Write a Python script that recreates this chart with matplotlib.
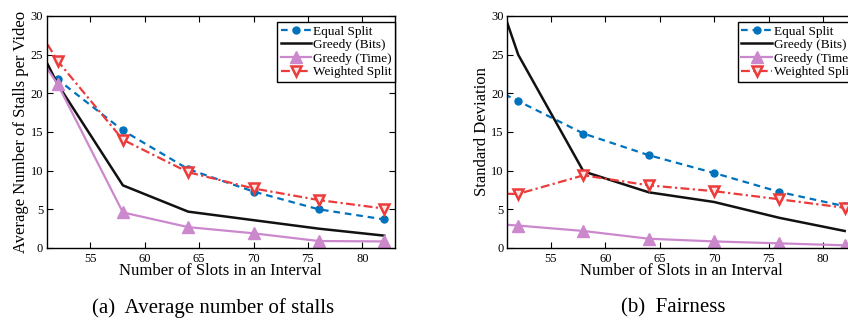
import numpy as np
import matplotlib.pyplot as plt

# Slot counts (first point lies left of the visible range)
slots = [46, 52, 58, 64, 70, 76, 82]

# (a) Average number of stalls per video
stalls_equal = [30.2, 21.8, 15.2, 10.2, 7.3, 5.0, 3.7]
stalls_bits = [38.0, 21.2, 8.1, 4.7, 3.6, 2.5, 1.6]
stalls_time = [33.8, 21.2, 4.6, 2.7, 1.9, 0.9, 0.85]
stalls_weighted = [38.0, 24.2, 14.0, 9.8, 7.7, 6.2, 5.1]

# (b) Fairness (standard deviation)
std_equal = [23.2, 19.0, 14.8, 12.0, 9.7, 7.25, 5.4]
std_bits = [49.6, 25.0, 9.9, 7.2, 5.95, 3.9, 2.2]
std_time = [3.5, 2.9, 2.2, 1.2, 0.85, 0.6, 0.35]
std_weighted = [7.0, 7.0, 9.4, 8.1, 7.35, 6.3, 5.2]

labels = ['Equal Split', 'Greedy (Bits)', 'Greedy (Time)', 'Weighted Split']
xticks = [55, 60, 65, 70, 75, 80]
yticks = [0, 5, 10, 15, 20, 25, 30]

blue = '#0072BD'
pink = '#CC88CC'
red = '#EC3B3B'

plt.rcParams['font.family'] = ['Liberation Serif', 'DejaVu Serif']

fig = plt.figure(figsize=(8.48, 3.24), dpi=100)

W, H = 848.0, 324.0
ax_a = fig.add_axes([46.7 / W, 1 - 248 / H, 348.3 / W, 232 / H])
ax_b = fig.add_axes([507.3 / W, 1 - 248 / H, 348.3 / W, 232 / H])


def draw(ax, eq, bits, time, wt, ylabel):
    ax.plot(slots, eq, color=blue, ls=(0, (3, 2.2)), lw=1.6,
            marker='o', ms=5, mfc=blue, mec=blue, label=labels[0])
    ax.plot(slots, bits, color='#111111', ls='-', lw=1.8, label=labels[1])
    ax.plot(slots, time, color=pink, ls='-', lw=1.6,
            marker='^', ms=8, mfc=pink, mec=pink, label=labels[2])
    ax.plot(slots, wt, color=red, ls=(0, (4, 1.5, 1, 1.5)), lw=1.6,
            marker='v', ms=7.5, mfc='#FDE6E6', mec=red, mew=1.8,
            label=labels[3])

    ax.set_xlim(51, 83)
    ax.set_ylim(0, 30)
    ax.set_xticks(xticks)
    ax.set_yticks(yticks)
    ax.tick_params(direction='in', length=4, width=0.8, labelsize=9,
                   top=True, right=True, pad=2.5)
    ax.tick_params(axis='x', pad=3.5)
    for s in ax.spines.values():
        s.set_linewidth(1.0)

    ax.set_xlabel('Number of Slots in an Interval', fontsize=12, labelpad=-1)
    ax.set_ylabel(ylabel, fontsize=12, labelpad=1)

    leg = ax.legend(loc='upper right', bbox_to_anchor=(1.0, 1 - 6 / 232),
                    borderaxespad=0, fontsize=9.5, fancybox=False,
                    framealpha=1, edgecolor='black', handlelength=2.3,
                    handletextpad=0.15, borderpad=0.25, labelspacing=0.1)
    leg.get_frame().set_linewidth(1.0)


draw(ax_a, stalls_equal, stalls_bits, stalls_time, stalls_weighted,
     'Average Number of Stalls per Video')
draw(ax_b, std_equal, std_bits, std_time, std_weighted,
     'Standard Deviation')

# Sub-figure captions
fig.text(213 / W, 1 - 308 / H, '(a)  Average number of stalls',
         ha='center', va='center', fontsize=15)
fig.text(673 / W, 1 - 308 / H, '(b)  Fairness',
         ha='center', va='center', fontsize=15)

fig.savefig('out.png', dpi=100)
